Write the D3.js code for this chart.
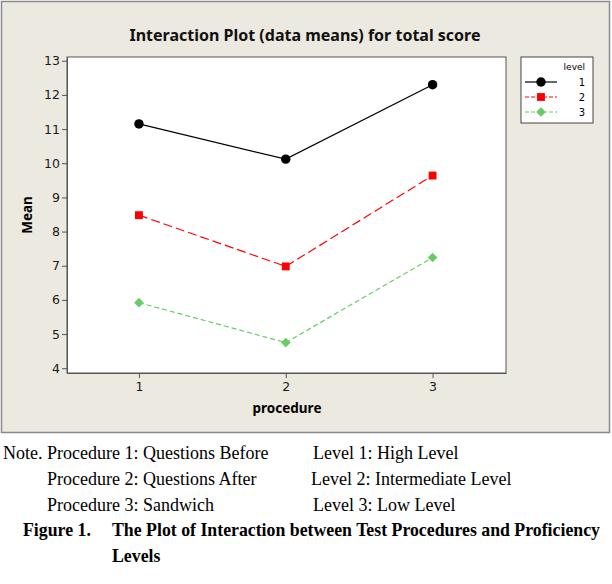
<!DOCTYPE html>
<html>
<head>
<meta charset="utf-8">
<script src="https://cdn.jsdelivr.net/npm/d3@7"></script>
<style>
  body { margin: 0; background: #fff; }
  svg { display: block; }
</style>
</head>
<body>
<svg id="chart" width="612" height="584"></svg>
<script>
/****** Interaction plot *******/
const procedures = [1, 2, 3];
const levels = ["1", "2", "3"];
const level1 = [11.15, 10.12, 12.30];
const level2 = [8.48, 6.98, 9.64];
const level3 = [5.92, 4.75, 7.24];
const yTicks = [4, 5, 6, 7, 8, 9, 10, 11, 12, 13];
const noteLeft = ["Note. Procedure 1: Questions Before", "Procedure 2: Questions After", "Procedure 3: Sandwich"];
const noteRight = ["Level 1: High Level", "Level 2: Intermediate Level", "Level 3: Low Level"];

var series = [
    {key: "1", values: level1, color: "#000000", dash: null, shape: d3.symbolCircle, size: 70, rot: 0},
    {key: "2", values: level2, color: "#ff0000", dash: "9,4", shape: d3.symbolSquare, size: 62, rot: 0},
    {key: "3", values: level3, color: "#66cc66", dash: "5,3", shape: d3.symbolSquare, size: 46, rot: 45}
];

var svg = d3.select("#chart");
var tickFont = "'DejaVu Sans', sans-serif";
var boldFont = "'Noto Sans', 'DejaVu Sans', sans-serif";

/** panel background **/
svg.append("rect")
    .attr("x", 1.5).attr("y", 1.5)
    .attr("width", 608).attr("height", 431)
    .attr("fill", "#ece9e0")
    .attr("stroke", "#8a8a8a")
    .attr("stroke-width", 1.5);

var plot = {left: 67, top: 57, right: 506, bottom: 373};

var x = d3.scaleLinear().domain([0.51, 3.5]).range([plot.left, plot.right]);
var y = d3.scaleLinear().domain([3.86, 13.11]).range([plot.bottom, plot.top]);

svg.append("rect")
    .attr("x", plot.left).attr("y", plot.top)
    .attr("width", plot.right - plot.left).attr("height", plot.bottom - plot.top)
    .attr("fill", "#fff")
    .attr("stroke", "#555")
    .attr("stroke-width", 1);

/** title **/
svg.append("text")
    .attr("x", 305).attr("y", 41)
    .attr("text-anchor", "middle")
    .style("font-family", boldFont)
    .style("font-weight", "bold")
    .style("font-size", "16px")
    .attr("fill", "#111")
    .text("Interaction Plot (data means) for total score");

/** axes **/
var yAxis = svg.append("g")
    .attr("transform", "translate(" + plot.left + ",0)")
    .call(d3.axisLeft(y).tickValues(yTicks).tickSize(5).tickPadding(2).tickSizeOuter(0));
var xAxis = svg.append("g")
    .attr("transform", "translate(0," + plot.bottom + ")")
    .call(d3.axisBottom(x).tickValues(procedures).tickFormat(d3.format("d"))
        .tickSize(5).tickPadding(4).tickSizeOuter(0));

[xAxis, yAxis].forEach(function (a) {
    a.select(".domain").attr("stroke", "#555");
    a.selectAll(".tick line").attr("stroke", "#555");
    a.selectAll(".tick text")
        .style("font-family", tickFont)
        .style("font-size", "12.5px")
        .attr("fill", "#1a1a1a");
});

svg.append("text")
    .attr("transform", "translate(32,215) rotate(-90)")
    .attr("text-anchor", "middle")
    .style("font-family", boldFont)
    .style("font-weight", "bold")
    .style("font-size", "13.5px")
    .text("Mean");

svg.append("text")
    .attr("x", 287).attr("y", 413)
    .attr("text-anchor", "middle")
    .style("font-family", boldFont)
    .style("font-weight", "bold")
    .style("font-size", "13.5px")
    .text("procedure");

/** lines + markers **/
var line = d3.line()
    .x(function (d, i) { return x(procedures[i]); })
    .y(function (d) { return y(d); });

series.forEach(function (s) {
    svg.append("path")
        .datum(s.values)
        .attr("fill", "none")
        .attr("stroke", s.color)
        .attr("stroke-width", 1.2)
        .attr("stroke-dasharray", s.dash)
        .attr("d", line);
    svg.selectAll(null)
        .data(s.values)
        .enter().append("path")
        .attr("transform", function (d, i) {
            return "translate(" + x(procedures[i]) + "," + y(d) + ") rotate(" + s.rot + ")";
        })
        .attr("d", d3.symbol().type(s.shape).size(s.size))
        .attr("fill", s.color);
});

/** legend **/
var leg = svg.append("g").attr("transform", "translate(521,57)");
leg.append("rect")
    .attr("width", 72).attr("height", 66)
    .attr("fill", "#fff")
    .attr("stroke", "#444");
leg.append("text")
    .attr("x", 64).attr("y", 13)
    .attr("text-anchor", "end")
    .style("font-family", tickFont)
    .style("font-size", "9px")
    .text("level");
series.forEach(function (s, i) {
    var ly = 25 + i * 15;
    leg.append("line")
        .attr("x1", 4).attr("x2", 36)
        .attr("y1", ly).attr("y2", ly)
        .attr("stroke", s.color)
        .attr("stroke-width", 1.2)
        .attr("stroke-dasharray", s.dash ? "4,2" : null);
    leg.append("path")
        .attr("transform", "translate(20," + ly + ") rotate(" + s.rot + ")")
        .attr("d", d3.symbol().type(s.shape).size(s.size))
        .attr("fill", s.color);
    leg.append("text")
        .attr("x", 64).attr("y", ly + 4)
        .attr("text-anchor", "end")
        .style("font-family", tickFont)
        .style("font-size", "10px")
        .text(levels[i]);
});

/** notes and caption **/
var serif = "'Liberation Serif', 'Times New Roman', serif";
var noteSize = "18px";
var noteY = [459, 485, 511];
noteLeft.forEach(function (t, i) {
    svg.append("text")
        .attr("x", i === 0 ? 3 : 47).attr("y", noteY[i])
        .style("font-family", serif)
        .style("font-size", noteSize)
        .text(t);
});
var rightX = [313, 311, 313];
noteRight.forEach(function (t, i) {
    svg.append("text")
        .attr("x", rightX[i]).attr("y", noteY[i])
        .style("font-family", serif)
        .style("font-size", noteSize)
        .text(t);
});
svg.append("text")
    .attr("x", 23).attr("y", 536)
    .style("font-family", serif)
    .style("font-weight", "bold")
    .style("font-size", "17.8px")
    .text("Figure 1.");
svg.append("text")
    .attr("x", 112).attr("y", 536)
    .style("font-family", serif)
    .style("font-weight", "bold")
    .style("font-size", "17.8px")
    .text("The Plot of Interaction between Test Procedures and Proficiency");
svg.append("text")
    .attr("x", 112).attr("y", 562)
    .style("font-family", serif)
    .style("font-weight", "bold")
    .style("font-size", "17.8px")
    .text("Levels");
</script>
</body>
</html>
